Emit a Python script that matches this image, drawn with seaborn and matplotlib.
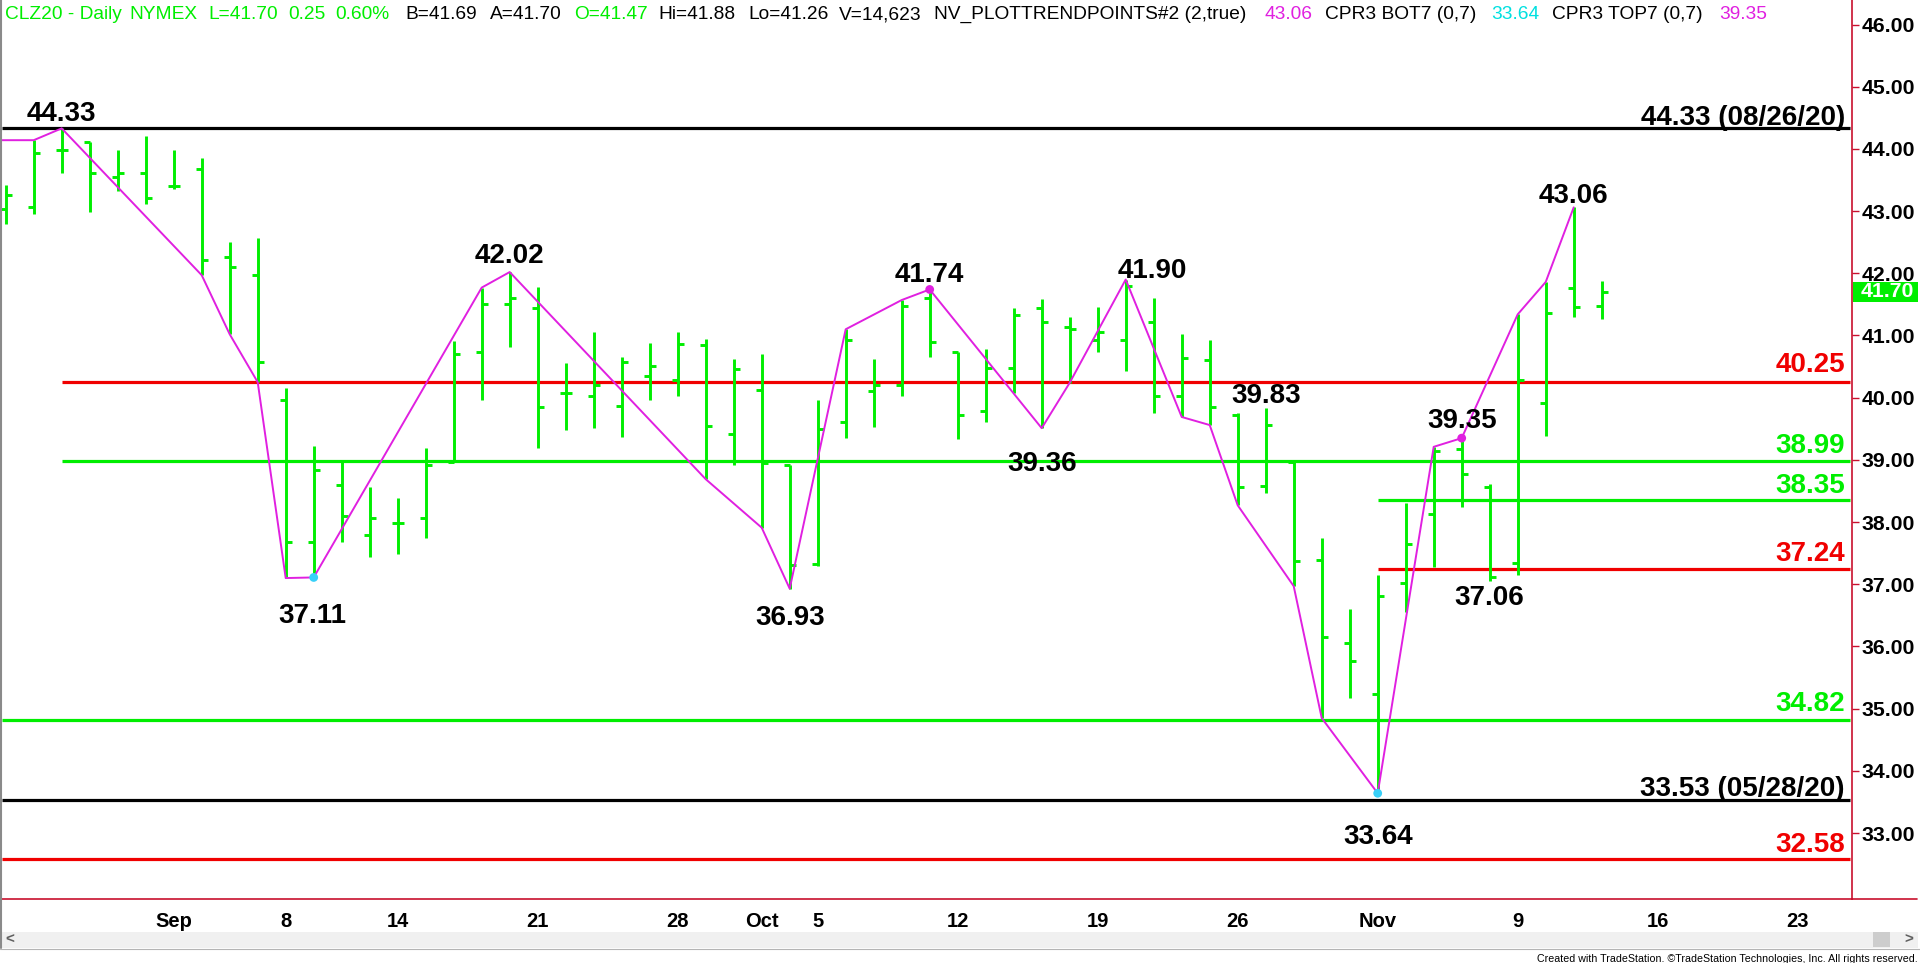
"""
CLZ20 daily bar chart with trend-point zigzag and support/resistance levels,
drawn in the TradeStation look (green OHLC bars, red price axis on the right).
"""

import matplotlib

matplotlib.use("Agg")

import matplotlib.pyplot as plt
import matplotlib.transforms as mtransforms
import pandas as pd
import seaborn as sns
from matplotlib.lines import Line2D
from matplotlib.patches import Rectangle

# ── Data ─────────────────────────────────────────────────────────────────────
# trading-day index, 0 = Mon Aug 31 2020 (Labor Day skipped)
bar_index = list(range(-5, 53))
opens = [43.03, 43.06, 43.98, 44.11, 43.55, 43.61, 43.41, 43.67, 42.27, 41.97,
         39.97, 37.68, 38.59, 37.79, 37.98, 38.07, 38.97, 40.73, 41.50, 41.45,
         40.08, 40.03, 39.87, 40.35, 40.28, 40.85, 39.41, 40.13, 38.92, 37.32,
         39.61, 40.11, 40.21, 41.61, 40.74, 39.79, 40.47, 41.44, 41.14, 40.92,
         40.93, 41.21, 40.03, 40.61, 39.72, 38.58, 38.96, 37.39, 36.05, 35.23,
         37.02, 38.13, 39.17, 38.56, 37.34, 39.91, 41.77, 41.47]
highs = [43.42, 44.14, 44.33, 44.11, 43.98, 44.21, 43.99, 43.85, 42.50, 42.56,
         40.16, 39.22, 38.96, 38.56, 38.38, 39.19, 40.91, 41.77, 42.02, 41.78,
         40.56, 41.05, 40.65, 40.88, 41.06, 40.94, 40.62, 40.71, 38.92, 39.96,
         41.10, 40.62, 41.57, 41.74, 40.74, 40.79, 41.44, 41.58, 41.30, 41.46,
         41.90, 41.60, 41.02, 40.93, 39.75, 39.83, 38.96, 37.75, 36.60, 37.15,
         38.31, 39.21, 39.35, 38.61, 41.34, 41.86, 43.06, 41.88]
lows = [42.80, 42.96, 43.61, 42.99, 43.32, 43.12, 43.36, 41.97, 41.02, 40.25,
        37.10, 37.11, 37.68, 37.44, 37.49, 37.75, 38.96, 39.96, 40.82, 39.19,
        39.48, 39.52, 39.37, 39.97, 40.03, 38.69, 38.92, 37.91, 36.93, 37.29,
        39.35, 39.53, 40.02, 40.65, 39.33, 39.61, 40.08, 39.51, 40.24, 40.74,
        40.43, 39.75, 39.69, 39.56, 38.27, 38.47, 36.97, 34.85, 35.17, 33.64,
        36.55, 37.27, 38.24, 37.06, 37.15, 39.39, 41.29, 41.26]
closes = [43.26, 43.94, 43.99, 43.61, 43.62, 43.21, 43.41, 42.21, 42.10, 40.58,
          37.68, 38.84, 38.10, 38.07, 37.98, 38.92, 40.71, 41.51, 41.60, 39.85,
          40.08, 40.20, 40.57, 40.51, 40.86, 39.54, 40.46, 38.95, 37.31, 39.49,
          40.93, 40.21, 41.47, 40.90, 39.72, 40.47, 41.33, 41.22, 41.11, 41.05,
          41.80, 40.03, 40.64, 39.85, 38.56, 39.56, 37.37, 36.16, 35.76, 36.81,
          37.64, 39.14, 38.78, 37.11, 40.29, 41.36, 41.46, 41.70]

trend_index = [-6, -4, -3, 2, 3, 4, 5, 6, 12, 13, 20, 22, 23, 25, 27, 28, 32, 33,
               35, 37, 38, 39, 41, 42, 44, 46, 47, 49, 50, 51]
trend_price = [44.14, 44.14, 44.33, 41.97, 41.02, 40.25, 37.10, 37.11, 41.77,
               42.02, 38.69, 37.91, 36.93, 41.10, 41.57, 41.74, 39.51, 40.24,
               41.90, 39.69, 39.56, 38.27, 36.97, 34.85, 33.64, 39.21, 39.35,
               41.34, 41.86, 43.06]

dot_index = [6, 28, 44, 47]
dot_price = [37.11, 41.74, 33.64, 39.35]
dot_kind = ["bottom", "top", "bottom", "top"]

pivot_text = ["44.33", "42.02", "41.74", "41.90", "39.83", "43.06", "39.35",
              "37.11", "36.93", "39.36", "37.06", "33.64"]
pivot_index = [-3, 13, 28, 35, 40, 51, 47, 6, 23, 32, 48, 44]
pivot_price = [44.33, 42.02, 41.74, 41.90, 39.83, 43.06, 39.35, 37.11, 36.93,
               39.51, 37.06, 33.64]

level_values = [44.33, 40.25, 38.99, 38.35, 37.24, 34.82, 33.53, 32.58]
level_text = ["44.33 (08/26/20)", "40.25", "38.99", "38.35", "37.24", "34.82",
              "33.53 (05/28/20)", "32.58"]
level_kind = ["extreme", "resist", "support", "support", "resist", "support",
              "extreme", "resist"]
level_start = [None, -3, -3, 44, 44, None, None, None]

date_tick_index = [0, 1, 5, 9, 14, 19, 22, 24, 29, 34, 39, 44, 49, 54, 59]
date_tick_labels = ["", "Sep", "8", "14", "21", "28", "Oct", "5", "12", "19",
                    "26", "Nov", "9", "16", "23"]
price_ticks = list(range(33, 47))
last_close = 41.70

title_tokens = ["CLZ20 - Daily", "NYMEX", "L=41.70", "0.25", "0.60%", "B=41.69",
                "A=41.70", "O=41.47", "Hi=41.88", "Lo=41.26", "V=14,623",
                "NV_PLOTTRENDPOINTS#2 (2,true)", "43.06", "CPR3 BOT7 (0,7)",
                "33.64", "CPR3 TOP7 (0,7)", "39.35"]
title_kind = ["up", "up", "up", "up", "up", "plain", "plain", "up", "plain",
              "plain", "plain", "plain", "top", "plain", "bottom", "plain", "top"]

# ── Style ────────────────────────────────────────────────────────────────────
GREEN = "#00EE00"
RED = "#F00000"
AXIS_RED = "#C8102E"
MAGENTA = "#E020E0"
CYAN = "#38D0F8"
W, H = 1920, 963
AX_LEFT, AX_RIGHT, AX_BOTTOM = 2, 1852, 899
X_LIM = (-5.132, 60.939)
Y_LIM = (31.94, 46.394)
LINE_END = 60.85
LABEL_SIZE = 20

pivot_offsets = [(0, 7), (0, 8.8), (0, 7.5), (27, 1.5), (0, 5.3), (0, 4.7),
                 (0, 10.5), (-1, -45.5), (0, -36.3), (0, -42.7), (0, -24.4),
                 (0, -50.7)]
level_offsets = [3.5, 10, 8, 7.5, 8, 9, 4, 7]
title_x_px = [4.9, 129.8, 208.2, 287.8, 335.6, 405.4, 489.9, 573.8, 658.3,
              748.3, 839.0, 933.9, 1264.3, 1325.0, 1491.5, 1552.2, 1719.3]
kind_colors = {"up": GREEN, "plain": "black", "top": MAGENTA, "bottom": "#00E0E0",
               "extreme": "black", "resist": RED, "support": GREEN}


def main():
    sns.set_style("white")
    plt.rcParams["font.family"] = ["Liberation Sans", "DejaVu Sans"]

    fig = plt.figure(figsize=(W / 100, H / 100), dpi=100)
    ax = fig.add_axes([AX_LEFT / W, (H - AX_BOTTOM) / H,
                       (AX_RIGHT - AX_LEFT) / W, AX_BOTTOM / H])

    # ── OHLC bars ────────────────────────────────────────────────────────────
    x = pd.Series(bar_index, dtype=float)
    ax.vlines(x, lows, highs, color=GREEN, lw=2.1, zorder=3)
    ax.hlines(opens, x - 0.21, x, color=GREEN, lw=2.1, zorder=3)
    ax.hlines(closes, x, x + 0.21, color=GREEN, lw=2.1, zorder=3)

    # ── Horizontal levels ────────────────────────────────────────────────────
    for value, start, kind in zip(level_values, level_start, level_kind):
        x0 = X_LIM[0] if start is None else start
        ax.hlines(value, x0, LINE_END, color=kind_colors[kind], lw=2.3, zorder=2)

    # ── Trend points zigzag ──────────────────────────────────────────────────
    trend_df = pd.DataFrame({"day": trend_index, "price": trend_price})
    sns.lineplot(data=trend_df, x="day", y="price", sort=False, estimator=None,
                 color=MAGENTA, lw=1.4, ax=ax, zorder=4)
    dots_df = pd.DataFrame({"day": dot_index, "price": dot_price, "kind": dot_kind})
    sns.scatterplot(data=dots_df, x="day", y="price", hue="kind",
                    palette={"top": MAGENTA, "bottom": CYAN}, s=40,
                    edgecolor="none", legend=False, ax=ax, zorder=5)

    # ── Pivot labels ─────────────────────────────────────────────────────────
    for text, i, p, (dx, dy) in zip(pivot_text, pivot_index, pivot_price, pivot_offsets):
        ax.annotate(text, xy=(i, p), xytext=(dx, dy), textcoords="offset pixels",
                    ha="center", va="baseline", fontsize=LABEL_SIZE,
                    fontweight="bold", color="black", zorder=6)

    # ── Level labels on the right ────────────────────────────────────────────
    label_x = (1845 - AX_LEFT) / (AX_RIGHT - AX_LEFT)
    for text, value, kind, dy in zip(level_text, level_values, level_kind, level_offsets):
        ax.annotate(text, xy=(label_x, value), xycoords=("axes fraction", "data"),
                    xytext=(0, dy), textcoords="offset pixels", ha="right",
                    va="baseline", fontsize=LABEL_SIZE, fontweight="bold",
                    color=kind_colors[kind], zorder=6)

    # ── Axes ─────────────────────────────────────────────────────────────────
    ax.set_xlim(*X_LIM)
    ax.set_ylim(*Y_LIM)
    ax.set_xlabel("")
    ax.set_ylabel("")
    ax.grid(False)
    for side in ("top", "left"):
        ax.spines[side].set_visible(False)
    for side in ("right", "bottom"):
        ax.spines[side].set_color(AXIS_RED)
        ax.spines[side].set_linewidth(1.2)

    ax.yaxis.tick_right()
    ax.set_yticks(price_ticks)
    ax.set_yticklabels([f"{t:.2f}" for t in price_ticks], fontweight="bold", fontsize=15.3)
    ax.tick_params(axis="y", direction="out", length=5, width=1, color=AXIS_RED,
                   labelcolor="black", pad=2)
    ax.set_xticks(date_tick_index)
    ax.set_xticklabels(date_tick_labels, fontweight="bold", fontsize=14.5)
    ax.tick_params(axis="x", direction="out", length=4.5, width=1, color=AXIS_RED,
                   labelcolor="black", pad=5)

    # last price box
    blend = mtransforms.blended_transform_factory(ax.transAxes, ax.transData)
    box_w = (1918 - 1853) / (AX_RIGHT - AX_LEFT)
    ax.add_patch(Rectangle((1.0005, last_close - 0.16), box_w, 0.32, transform=blend,
                           facecolor=GREEN, edgecolor="none", clip_on=False, zorder=10))
    ax.text((1861 - AX_LEFT) / (AX_RIGHT - AX_LEFT), last_close, f"{last_close:.2f}",
            transform=blend, ha="left", va="center", color="white", fontsize=15.3,
            fontweight="bold", clip_on=False, zorder=11)

    # ── Title line ───────────────────────────────────────────────────────────
    for token, kind, xp in zip(title_tokens, title_kind, title_x_px):
        fig.text(xp / W, 1 - 19.3 / H, token, ha="left", va="baseline",
                 fontsize=13.8, color=kind_colors[kind])

    # ── Window chrome: axis extension, scroll bar, borders, credit ──────────
    fig.add_artist(Line2D([AX_RIGHT / W, 1917 / W], [(H - AX_BOTTOM) / H] * 2,
                          color=AXIS_RED, lw=1.2, transform=fig.transFigure))
    fig.add_artist(Line2D([1 / W, 1 / W], [(H - 948) / H, 1], color="#8a8a8a",
                          lw=1.5, transform=fig.transFigure))
    fig.add_artist(Rectangle((2 / W, (H - 948.3) / H), 1916 / W, 16.6 / H,
                             transform=fig.transFigure, facecolor="#F0F0F0",
                             edgecolor="none"))
    fig.add_artist(Rectangle((1873 / W, (H - 946.7) / H), 17 / W, 15 / H,
                             transform=fig.transFigure, facecolor="#CDCDCD",
                             edgecolor="none"))
    fig.add_artist(Line2D([0, 1], [(H - 948.5) / H] * 2, color="#B4B4B4", lw=0.8,
                          transform=fig.transFigure))
    fig.text(10 / W, 1 - 940 / H, "<", ha="center", va="center", fontsize=11,
             color="#606060", fontweight="bold")
    fig.text(1909 / W, 1 - 940 / H, ">", ha="center", va="center", fontsize=11,
             color="#606060", fontweight="bold")

    credit = fig.text(1918 / W, 1 - 961.5 / H,
                      "Created with TradeStation. \u00a9TradeStation Technologies, Inc. All rights reserved.",
                      ha="right", va="baseline", fontsize=9, color="black",
                      family=["Liberation Sans Narrow", "Liberation Sans", "DejaVu Sans"])
    fig.canvas.draw()
    width = credit.get_window_extent(fig.canvas.get_renderer()).width
    credit.set_fontsize(9 * 376 / width)

    fig.savefig("out.png", dpi=100, facecolor="white")
    plt.close(fig)


if __name__ == "__main__":
    main()
